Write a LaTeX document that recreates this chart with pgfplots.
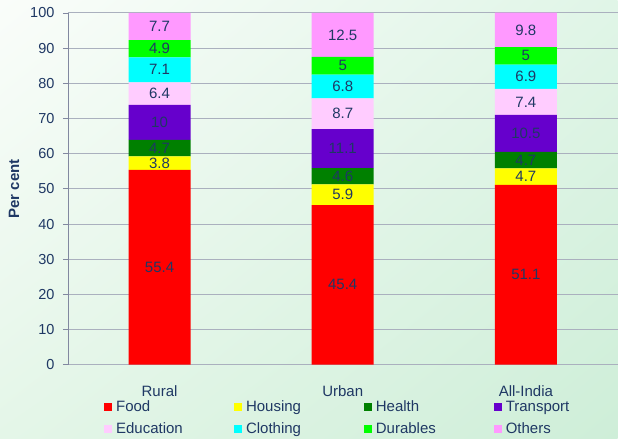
\documentclass[border=0pt]{standalone}
\usepackage{pgfplots}
\pgfplotsset{compat=1.18}
\usepackage{pgfplotstable}
\usetikzlibrary{shadings}
\usepackage{fontspec}
\setmainfont{Liberation Sans}
\definecolor{txt}{RGB}{31,56,100}
\definecolor{cfood}{RGB}{255,0,0}
\definecolor{chousing}{RGB}{255,255,0}
\definecolor{chealth}{RGB}{0,128,0}
\definecolor{ctransport}{RGB}{102,0,204}
\definecolor{ceducation}{RGB}{255,204,255}
\definecolor{cclothing}{RGB}{0,255,255}
\definecolor{cdurables}{RGB}{0,255,0}
\definecolor{cothers}{RGB}{255,153,255}
\definecolor{gridc}{RGB}{170,176,190}
\definecolor{axc}{RGB}{130,136,160}
\definecolor{bgul}{RGB}{250,253,250}
\definecolor{bgur}{RGB}{224,245,231}
\definecolor{bgll}{RGB}{228,246,232}
\definecolor{bglr}{RGB}{206,238,216}
\pgfplotstableread{
x food housing health transport education clothing durables others
0 55.4 3.8 4.7 10 6.4 7.1 4.9 7.7
1 45.4 5.9 4.6 11.1 8.7 6.8 5 12.5
2 51.1 4.7 4.7 10.5 7.4 6.9 5 9.8
}\data
\pgfplotstableread{
x y lab
0 27.7 55.4
0 57.3 3.8
0 61.55 4.7
0 68.9 10
0 77.1 6.4
0 83.85 7.1
0 89.85 4.9
0 96.15 7.7
1 22.7 45.4
1 48.35 5.9
1 53.6 4.6
1 61.45 11.1
1 71.35 8.7
1 79.1 6.8
1 85 5
1 93.75 12.5
2 25.55 51.1
2 53.45 4.7
2 58.15 4.7
2 65.75 10.5
2 74.7 7.4
2 81.85 6.9
2 87.8 5
2 95.2 9.8
}\labels
\newcommand{\lt}[1]{\makebox[118pt][l]{\hspace{2pt}#1}}
\newcommand{\ltl}[1]{\makebox[70pt][l]{\hspace{2pt}#1}}
\begin{document}
\begin{tikzpicture}[x=1pt,y=1pt]
\shade[upper left=bgul, upper right=bgur, lower left=bgll, lower right=bglr] (0,0) rectangle (618,439);
\begin{axis}[
  at={(68pt,74pt)}, anchor=south west,
  scale only axis, width=550pt, height=352pt,
  ybar stacked, bar width=62pt,
  xmin=-0.5, xmax=2.5, ymin=0, ymax=100,
  xtick={0,1,2}, xticklabels={Rural,Urban,All-India},
  ytick={0,10,...,100},
  ymajorgrids, grid style={gridc, line width=1pt},
  axis lines=left,
  axis line style={-, axc, line width=0.8pt},
  x axis line style={draw=none},
  xtick style={draw=none},
  ytick style={axc, line width=0.8pt},
  tick align=outside, major tick length=5pt,
  /pgf/number format/assume math mode=true,
  ticklabel style={font=\fontsize{14.5pt}{17pt}\selectfont, text=txt},
  yticklabel style={xshift=-5pt},
  xticklabel style={yshift=-12pt, font=\fontsize{15pt}{17pt}\selectfont},
  ylabel={Per cent},
  ylabel style={at={(axis description cs:-0.098,0.5)}, anchor=center, rotate=0, font=\bfseries\fontsize{15pt}{17pt}\selectfont, text=txt},
  legend columns=4,
  legend style={at={(axis description cs:0.0655,-0.096)}, anchor=north west, draw=none, fill=none, inner sep=0pt, column sep=0pt, row sep=6pt, font=\fontsize{15pt}{17pt}\selectfont, text=txt, nodes={inner sep=2pt}},
  every axis plot post/.append style={draw=none, legend image code/.code={\fill[##1] (0pt,-4.3pt) rectangle (8pt,4.3pt);}},
]
\addplot[fill=cfood] table[x=x,y=food]{\data};
\addplot[fill=chousing] table[x=x,y=housing]{\data};
\addplot[fill=chealth] table[x=x,y=health]{\data};
\addplot[fill=ctransport] table[x=x,y=transport]{\data};
\addplot[fill=ceducation] table[x=x,y=education]{\data};
\addplot[fill=cclothing] table[x=x,y=clothing]{\data};
\addplot[fill=cdurables] table[x=x,y=durables]{\data};
\addplot[fill=cothers] table[x=x,y=others]{\data};
\legend{\lt{Food},\lt{Housing},\lt{Health},\ltl{Transport},\lt{Education},\lt{Clothing},\lt{Durables},\ltl{Others}}
\end{axis}
\begin{axis}[
  at={(68pt,74pt)}, anchor=south west,
  scale only axis, width=550pt, height=352pt,
  xmin=-0.5, xmax=2.5, ymin=0, ymax=100,
  hide axis,
]
\addplot[draw=none, mark=none, nodes near coords, point meta=explicit symbolic,
  every node near coord/.append style={anchor=center, font=\fontsize{15pt}{17pt}\selectfont, text=txt}]
  table[x=x,y=y,meta=lab]{\labels};
\end{axis}
\end{tikzpicture}
\end{document}
